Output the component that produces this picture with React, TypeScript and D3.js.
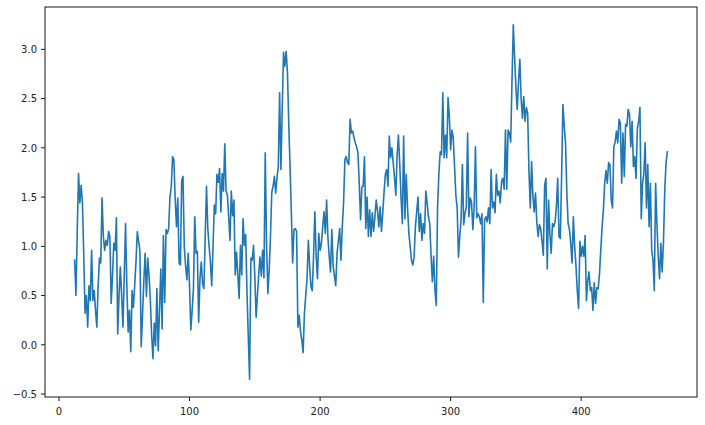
import React from "react";
import * as d3 from "d3";

// x positions are consecutive integers starting at xStart
const xStart = 12;
const values: number[] = [
  // 12-55
  0.86, 0.5, 1.15, 1.74, 1.44, 1.62, 1.44, 0.9, 0.32, 0.5, 0.18, 0.6, 0.45, 0.96, 0.45, 0.55, 0.35, 0.18, 0.6, 0.88,
  0.83, 1.49, 1.1, 0.96, 1.06, 1.01, 1.15, 1.1, 0.42, 0.7, 1.03, 0.96, 1.29, 0.11, 0.5, 0.79, 0.5, 0.18, 0.7, 1.23,
  0.6, 0.13, 0.35, -0.07,
  // 56-101
  0.55, 0.38, 0.6, 0.85, 1.15, 1.05, 0.96, -0.02, 0.3, 0.65, 0.93, 0.49, 0.88, 0.7, 0.45, 0.1, -0.14, 0.22, -0.01, 0.57,
  -0.06, 0.35, 0.77, 0.16, 1.11, 0.43, 1.17, 1.13, 1.18, 1.5, 1.6, 1.91, 1.88, 1.49, 1.2, 1.49, 0.83, 0.81, 1.67, 1.71,
  0.99, 0.8, 0.66, 0.93, 0.6, 0.15,
  // 102-147
  0.35, 0.57, 1.3, 0.93, 0.95, 0.23, 0.67, 0.84, 0.62, 0.57, 1.1, 1.61, 1.18, 1.0, 0.84, 0.6, 1.0, 1.42, 1.33, 1.73,
  1.65, 1.79, 1.35, 1.74, 1.56, 2.04, 1.56, 1.52, 1.3, 1.06, 1.56, 1.31, 1.47, 0.71, 0.94, 0.71, 0.47, 1.01, 0.71, 1.28,
  1.01, 1.12, 0.54, 0.09, -0.35, 0.88,
  // 148-193
  0.86, 1.01, 0.7, 0.28, 0.5, 0.72, 0.89, 0.7, 0.96, 0.68, 1.95, 1.03, 0.52, 0.75, 1.1, 1.55, 1.61, 1.71, 1.54, 1.7,
  1.81, 2.56, 1.78, 2.4, 2.97, 2.83, 2.98, 2.77, 2.25, 1.81, 1.34, 0.83, 1.17, 1.18, 1.15, 0.18, 0.3, 0.14, 0.05, -0.08,
  0.32, 0.5, 0.66, 1.06, 0.8, 0.59,
  // 194-238
  0.55, 0.9, 1.35, 0.9, 0.67, 1.13, 0.96, 1.03, 1.2, 1.35, 1.13, 1.47, 1.09, 0.9, 0.74, 1.17, 0.8, 0.7, 0.6, 0.93,
  1.05, 1.18, 0.86, 1.2, 1.44, 1.88, 1.91, 1.85, 1.83, 2.29, 2.15, 2.17, 2.1, 2.05, 2.01, 1.95, 1.64, 1.27, 1.6, 1.61,
  1.91, 1.18, 1.5, 1.1, 1.37,
  // 239-285
  1.1, 1.34, 1.15, 1.3, 1.47, 1.36, 1.2, 1.4, 1.15, 1.34, 1.55, 1.73, 1.78, 1.61, 2.12, 1.9, 2.0, 1.85, 1.7, 1.52,
  1.92, 2.13, 1.84, 1.5, 1.23, 2.12, 1.28, 1.73, 1.39, 1.13, 1.0, 0.86, 0.81, 0.89, 1.2, 1.35, 1.5, 1.15, 1.33, 1.06,
  1.23, 1.13, 1.56, 1.44, 1.3, 1.23, 0.91,
  // 286-331
  0.64, 0.9, 0.55, 0.4, 1.4, 1.74, 1.96, 1.93, 2.56, 1.9, 2.13, 1.9, 2.51, 2.32, 1.98, 2.18, 2.1, 1.81, 1.52, 1.39,
  0.89, 1.1, 1.27, 1.83, 1.22, 1.33, 1.4, 2.15, 1.3, 1.49, 1.45, 1.17, 1.39, 2.01, 1.29, 1.33, 1.3, 1.23, 1.33, 0.43,
  1.27, 1.3, 1.25, 1.39, 1.23, 1.78,
  // 332-375
  1.39, 1.45, 1.34, 1.73, 1.52, 1.56, 1.44, 1.66, 1.69, 1.58, 2.18, 1.58, 2.18, 2.15, 2.06, 2.68, 3.25, 2.92, 2.61, 2.39,
  2.68, 2.9, 2.5, 2.3, 2.52, 2.27, 2.41, 2.35, 1.76, 1.39, 1.86, 1.52, 1.35, 1.54, 1.25, 1.1, 1.22, 1.18, 1.05, 0.91,
  1.62, 1.69, 0.77, 1.47,
  // 376-421
  1.13, 0.93, 1.23, 1.2, 1.25, 1.4, 1.69, 1.1, 1.08, 1.71, 2.44, 2.22, 2.05, 1.55, 1.23, 1.17, 1.03, 0.83, 1.3, 1.0,
  0.8, 0.55, 0.37, 1.05, 0.9, 1.0, 0.9, 1.11, 0.45, 0.65, 0.74, 0.55, 0.58, 0.35, 0.63, 0.42, 0.58, 0.57, 0.72, 0.96,
  1.2, 1.37, 1.64, 1.77, 1.64, 1.85,
  // 422-466
  1.83, 1.47, 1.39, 2.01, 2.06, 2.17, 2.05, 2.29, 2.25, 1.64, 2.15, 1.71, 2.24, 2.22, 2.39, 2.34, 2.01, 2.27, 1.81, 1.91,
  1.69, 2.19, 2.27, 2.41, 1.28, 1.64, 1.74, 2.05, 1.39, 1.83, 1.2, 1.64, 0.96, 0.86, 0.55, 1.64, 1.23, 0.9, 0.67, 1.03,
  0.74, 1.03, 1.57, 1.85, 1.96,
];
const xTicks = [0, 100, 200, 300, 400];
const yTicks = [-0.5, 0, 0.5, 1.0, 1.5, 2.0, 2.5, 3.0];

const W = 705;
const H = 425;
const M = { left: 45, right: 697, top: 7, bottom: 397 };

export default function App() {
  const pts = values.map((v, i) => ({ x: xStart + i, y: v }));
  const xMin = d3.min(pts, (d) => d.x)!;
  const xMax = d3.max(pts, (d) => d.x)!;
  const yMin = d3.min(pts, (d) => d.y)!;
  const yMax = d3.max(pts, (d) => d.y)!;
  const xr = xMax - xMin;
  const yr = yMax - yMin;
  const x = d3.scaleLinear().domain([xMin - 0.05 * xr, xMax + 0.05 * xr]).range([M.left, M.right]);
  const y = d3.scaleLinear().domain([yMin - 0.05 * yr, yMax + 0.05 * yr]).range([M.bottom, M.top]);
  const line = d3
    .line<{ x: number; y: number }>()
    .x((d) => x(d.x))
    .y((d) => y(d.y));
  const fmt = (v: number) => d3.format(".1f")(v).replace("-", "\u2212");
  const font = "DejaVu Sans, sans-serif";
  return (
    <div style={{ position: "absolute", left: 0, top: 0, width: W, height: H, background: "#fff" }}>
      <svg width={W} height={H} style={{ display: "block" }}>
        <rect x={0} y={0} width={W} height={H} fill="#fff" />
        <path
          d={line(pts) || ""}
          fill="none"
          stroke="#1f77b4"
          strokeWidth={1.6}
          strokeLinejoin="round"
          strokeLinecap="square"
        />
        <rect
          x={M.left}
          y={M.top}
          width={M.right - M.left}
          height={M.bottom - M.top}
          fill="none"
          stroke="#000"
          strokeWidth={0.9}
        />
        {xTicks.map((t) => (
          <g key={"x" + t}>
            <line x1={x(t)} x2={x(t)} y1={M.bottom} y2={M.bottom + 4} stroke="#000" strokeWidth={0.9} />
            <text x={x(t)} y={M.bottom + 18} textAnchor="middle" fontFamily={font} fontSize={10} fill="#222">
              {t}
            </text>
          </g>
        ))}
        {yTicks.map((t) => (
          <g key={"y" + t}>
            <line x1={M.left - 4} x2={M.left} y1={y(t)} y2={y(t)} stroke="#000" strokeWidth={0.9} />
            <text
              x={M.left - 8}
              y={y(t) + 3.7}
              textAnchor="end"
              fontFamily={font}
              fontSize={10}
              fill="#222"
            >
              {fmt(t)}
            </text>
          </g>
        ))}
      </svg>
    </div>
  );
}
